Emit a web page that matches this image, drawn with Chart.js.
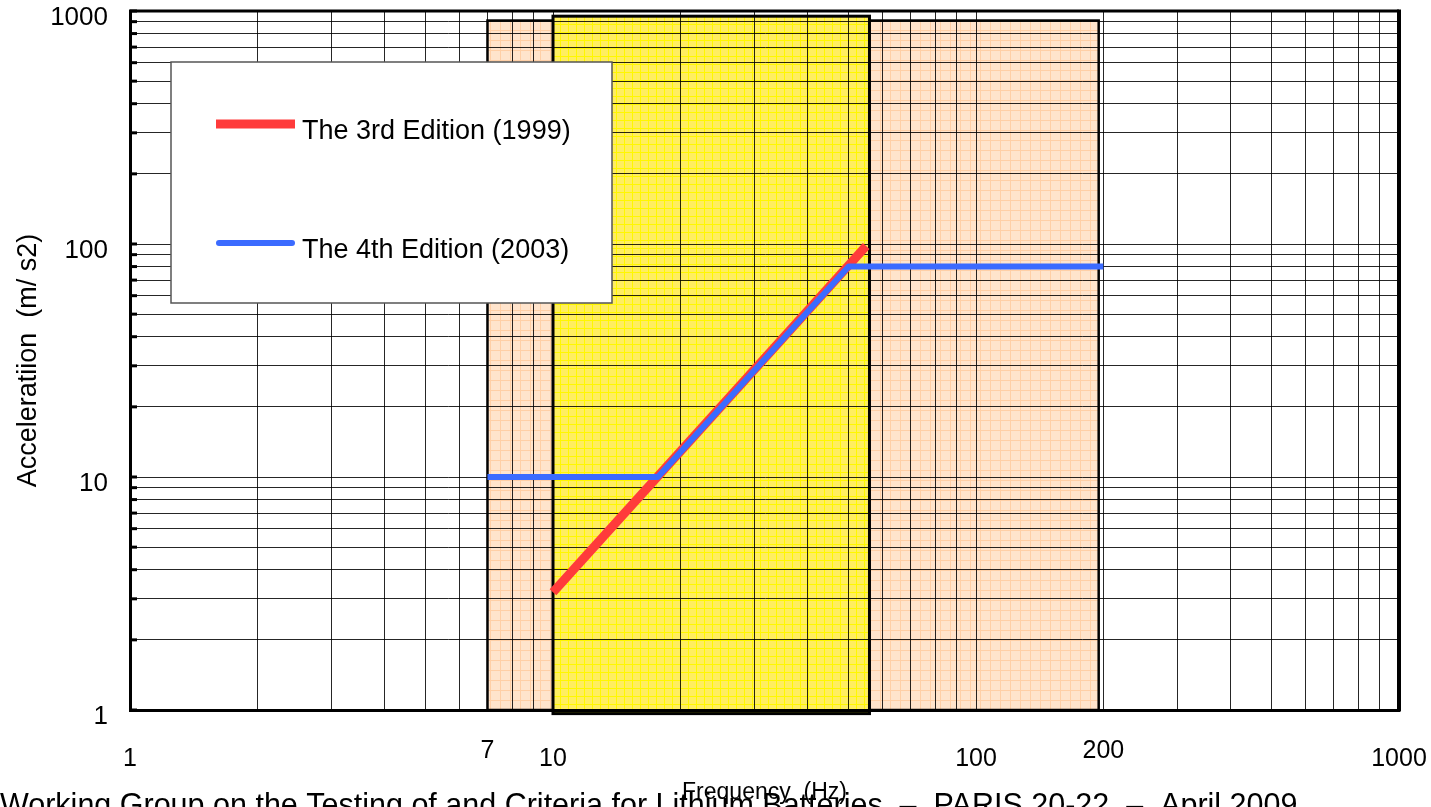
<!DOCTYPE html>
<html><head><meta charset="utf-8">
<script src="https://cdn.jsdelivr.net/npm/chart.js@4.4.1/dist/chart.umd.min.js"></script>
<style>html,body{margin:0;padding:0;background:#fff;overflow:hidden}canvas{display:block}</style>
</head><body><canvas id="c" width="1431" height="807"></canvas>
<script>
const FONT = '"Liberation Sans", Arial, sans-serif';

// ---- data ----
const gridSteps = [1, 2, 3, 4, 5, 6, 7, 8, 9];
const decades = [1, 10, 100];
const axisMax = [1000];
const xTickLabels = [1, 7, 10, 100, 200, 1000];
const xRaisedLabels = [7, 200];
const yTickLabels = [1, 10, 100, 1000];
const freq3rd = [10, 55];
const accel3rd = [3.2, 98];
const freq4th = [7, 17.7, 50, 200];
const accel4th = [10, 10, 80, 80];
const bandOrangeX = [7, 195];
const bandOrangeY = [1, 910];
const bandYellowX = [10, 56];
const bandYellowY = [0.965, 950];
const seriesLabels = ['The 3rd Edition (1999)', 'The 4th Edition (2003)'];
const xTitle = 'Frequency  (Hz)';
const yTitle = 'Acceleratiion  (m/ s2)';
const footerText = 'Working Group on the Testing of and Criteria for Lithium Batteries  \u2013  PARIS 20-22  \u2013  April 2009';

const gridValues = decades.flatMap(d => gridSteps.map(s => s * d)).concat(axisMax);

const canvas = document.getElementById('c');
const ctx = canvas.getContext('2d');

function makePattern(base, line, step) {
  const c = document.createElement('canvas');
  c.width = step; c.height = step;
  const g = c.getContext('2d');
  g.fillStyle = base; g.fillRect(0, 0, step, step);
  g.fillStyle = line;
  g.fillRect(0, 0, step, 1);
  g.fillRect(0, 0, 1, step);
  return ctx.createPattern(c, 'repeat');
}
const orangeFill = makePattern('#FFE4CC', '#FFCFA6', 10);
const yellowFill = makePattern('#FFEE60', '#FFF700', 8);

const bandsPlugin = {
  id: 'bands',
  beforeDraw(chart) {
    const { ctx, scales: { x, y } } = chart;
    const drawBand = (bx, by, fill, lw) => {
      const x0 = x.getPixelForValue(bx[0]), x1 = x.getPixelForValue(bx[1]);
      const y0 = y.getPixelForValue(by[1]), y1 = y.getPixelForValue(by[0]);
      ctx.save();
      ctx.fillStyle = fill;
      ctx.fillRect(x0, y0, x1 - x0, y1 - y0);
      ctx.lineWidth = lw;
      ctx.strokeStyle = '#000';
      ctx.strokeRect(x0, y0, x1 - x0, y1 - y0);
      ctx.restore();
    };
    drawBand(bandOrangeX, bandOrangeY, orangeFill, 2.5);
    drawBand(bandYellowX, bandYellowY, yellowFill, 3);
  },
  afterDraw(chart) {
    const { ctx, chartArea: a, scales: { y } } = chart;
    ctx.save();
    // top and right frame
    ctx.strokeStyle = '#000';
    ctx.lineWidth = 3;
    ctx.beginPath();
    ctx.moveTo(a.left - 1, a.top);
    ctx.lineTo(a.right, a.top);
    ctx.stroke();
    ctx.lineWidth = 4;
    ctx.beginPath();
    ctx.moveTo(a.right, a.top - 1.5);
    ctx.lineTo(a.right, a.bottom + 1.5);
    ctx.stroke();
    // inner tick marks on y axis
    ctx.lineWidth = 3;
    gridValues.forEach(v => {
      const py = y.getPixelForValue(v);
      ctx.beginPath();
      ctx.moveTo(a.left, py);
      ctx.lineTo(a.left + 7, py);
      ctx.stroke();
    });
    // legend box
    const lx = 171, ly = 62, lw = 441, lh = 241;
    ctx.fillStyle = '#fff';
    ctx.fillRect(lx, ly, lw, lh);
    ctx.strokeStyle = '#555';
    ctx.lineWidth = 1.5;
    ctx.strokeRect(lx, ly, lw, lh);
    const ds = chart.data.datasets;
    const rows = [124, 243];
    ds.forEach((d, i) => {
      ctx.strokeStyle = d.borderColor;
      ctx.lineWidth = d.borderWidth;
      ctx.lineCap = i === 1 ? 'round' : 'butt';
      ctx.beginPath();
      ctx.moveTo(216 + (i === 1 ? 3 : 0), rows[i]);
      ctx.lineTo(295 - (i === 1 ? 3 : 0), rows[i]);
      ctx.stroke();
      ctx.fillStyle = '#000';
      ctx.font = '27px ' + FONT;
      ctx.textBaseline = 'middle';
      ctx.textAlign = 'left';
      ctx.fillText(d.label, 302, rows[i] + 8);
    });
    // footer
    ctx.fillStyle = '#000';
    ctx.font = '30.5px ' + FONT;
    ctx.textBaseline = 'alphabetic';
    ctx.textAlign = 'left';
    ctx.fillText(footerText, 0, 815);
    ctx.restore();
  }
};

const gridCfg = { color: 'rgba(0,0,0,0.85)', lineWidth: 1, drawTicks: false };

new Chart(canvas, {
  type: 'scatter',
  data: {
    datasets: [
      {
        label: seriesLabels[0],
        data: freq3rd.map((f, i) => ({ x: f, y: accel3rd[i] })),
        showLine: true,
        borderColor: '#FF3B3B',
        backgroundColor: '#FF3B3B',
        borderWidth: 9,
        pointRadius: 0,
        order: 2,
        clip: false
      },
      {
        label: seriesLabels[1],
        data: freq4th.map((f, i) => ({ x: f, y: accel4th[i] })),
        showLine: true,
        borderColor: '#3B6BFF',
        backgroundColor: '#3B6BFF',
        borderWidth: 6,
        borderJoinStyle: 'round',
        pointRadius: 0,
        order: 1,
        clip: false
      }
    ]
  },
  options: {
    responsive: false,
    animation: false,
    devicePixelRatio: 1,
    layout: { padding: { top: 11, right: 32, bottom: 0, left: 0 } },
    plugins: { legend: { display: false }, tooltip: { enabled: false } },
    scales: {
      x: {
        type: 'logarithmic', min: 1, max: 1000, position: 'bottom',
        afterBuildTicks: s => { s.ticks = gridValues.map(v => ({ value: v })); },
        afterFit: s => { s.height = 97; s.paddingLeft = 0; s.paddingRight = 0; },
        grid: gridCfg,
        border: { color: '#000', width: 3 },
        ticks: {
          autoSkip: false, maxRotation: 0, minRotation: 0, padding: 37, color: '#000',
          font: { family: FONT, size: 25, lineHeight: '8px' },
          callback: v => xTickLabels.includes(v) ? (xRaisedLabels.includes(v) ? [String(v)] : ['', String(v)]) : ''
        },
        title: { display: true, text: xTitle, color: '#000', font: { family: FONT, size: 23 }, padding: { top: 0, bottom: 1 } }
      },
      y: {
        type: 'logarithmic', min: 1, max: 1000,
        afterBuildTicks: s => { s.ticks = gridValues.map(v => ({ value: v })); },
        afterFit: s => { s.width = 130; s.paddingTop = 0; s.paddingBottom = 0; },
        grid: gridCfg,
        border: { color: '#000', width: 3 },
        ticks: {
          autoSkip: false, padding: 22, labelOffset: 7, color: '#000',
          font: { family: FONT, size: 26 },
          callback: v => yTickLabels.includes(v) ? String(v) : ''
        },
        title: { display: true, text: yTitle, color: '#000', font: { family: FONT, size: 27 }, padding: { top: 12, bottom: 0 } }
      }
    }
  },
  plugins: [bandsPlugin]
});
</script>
</body></html>
